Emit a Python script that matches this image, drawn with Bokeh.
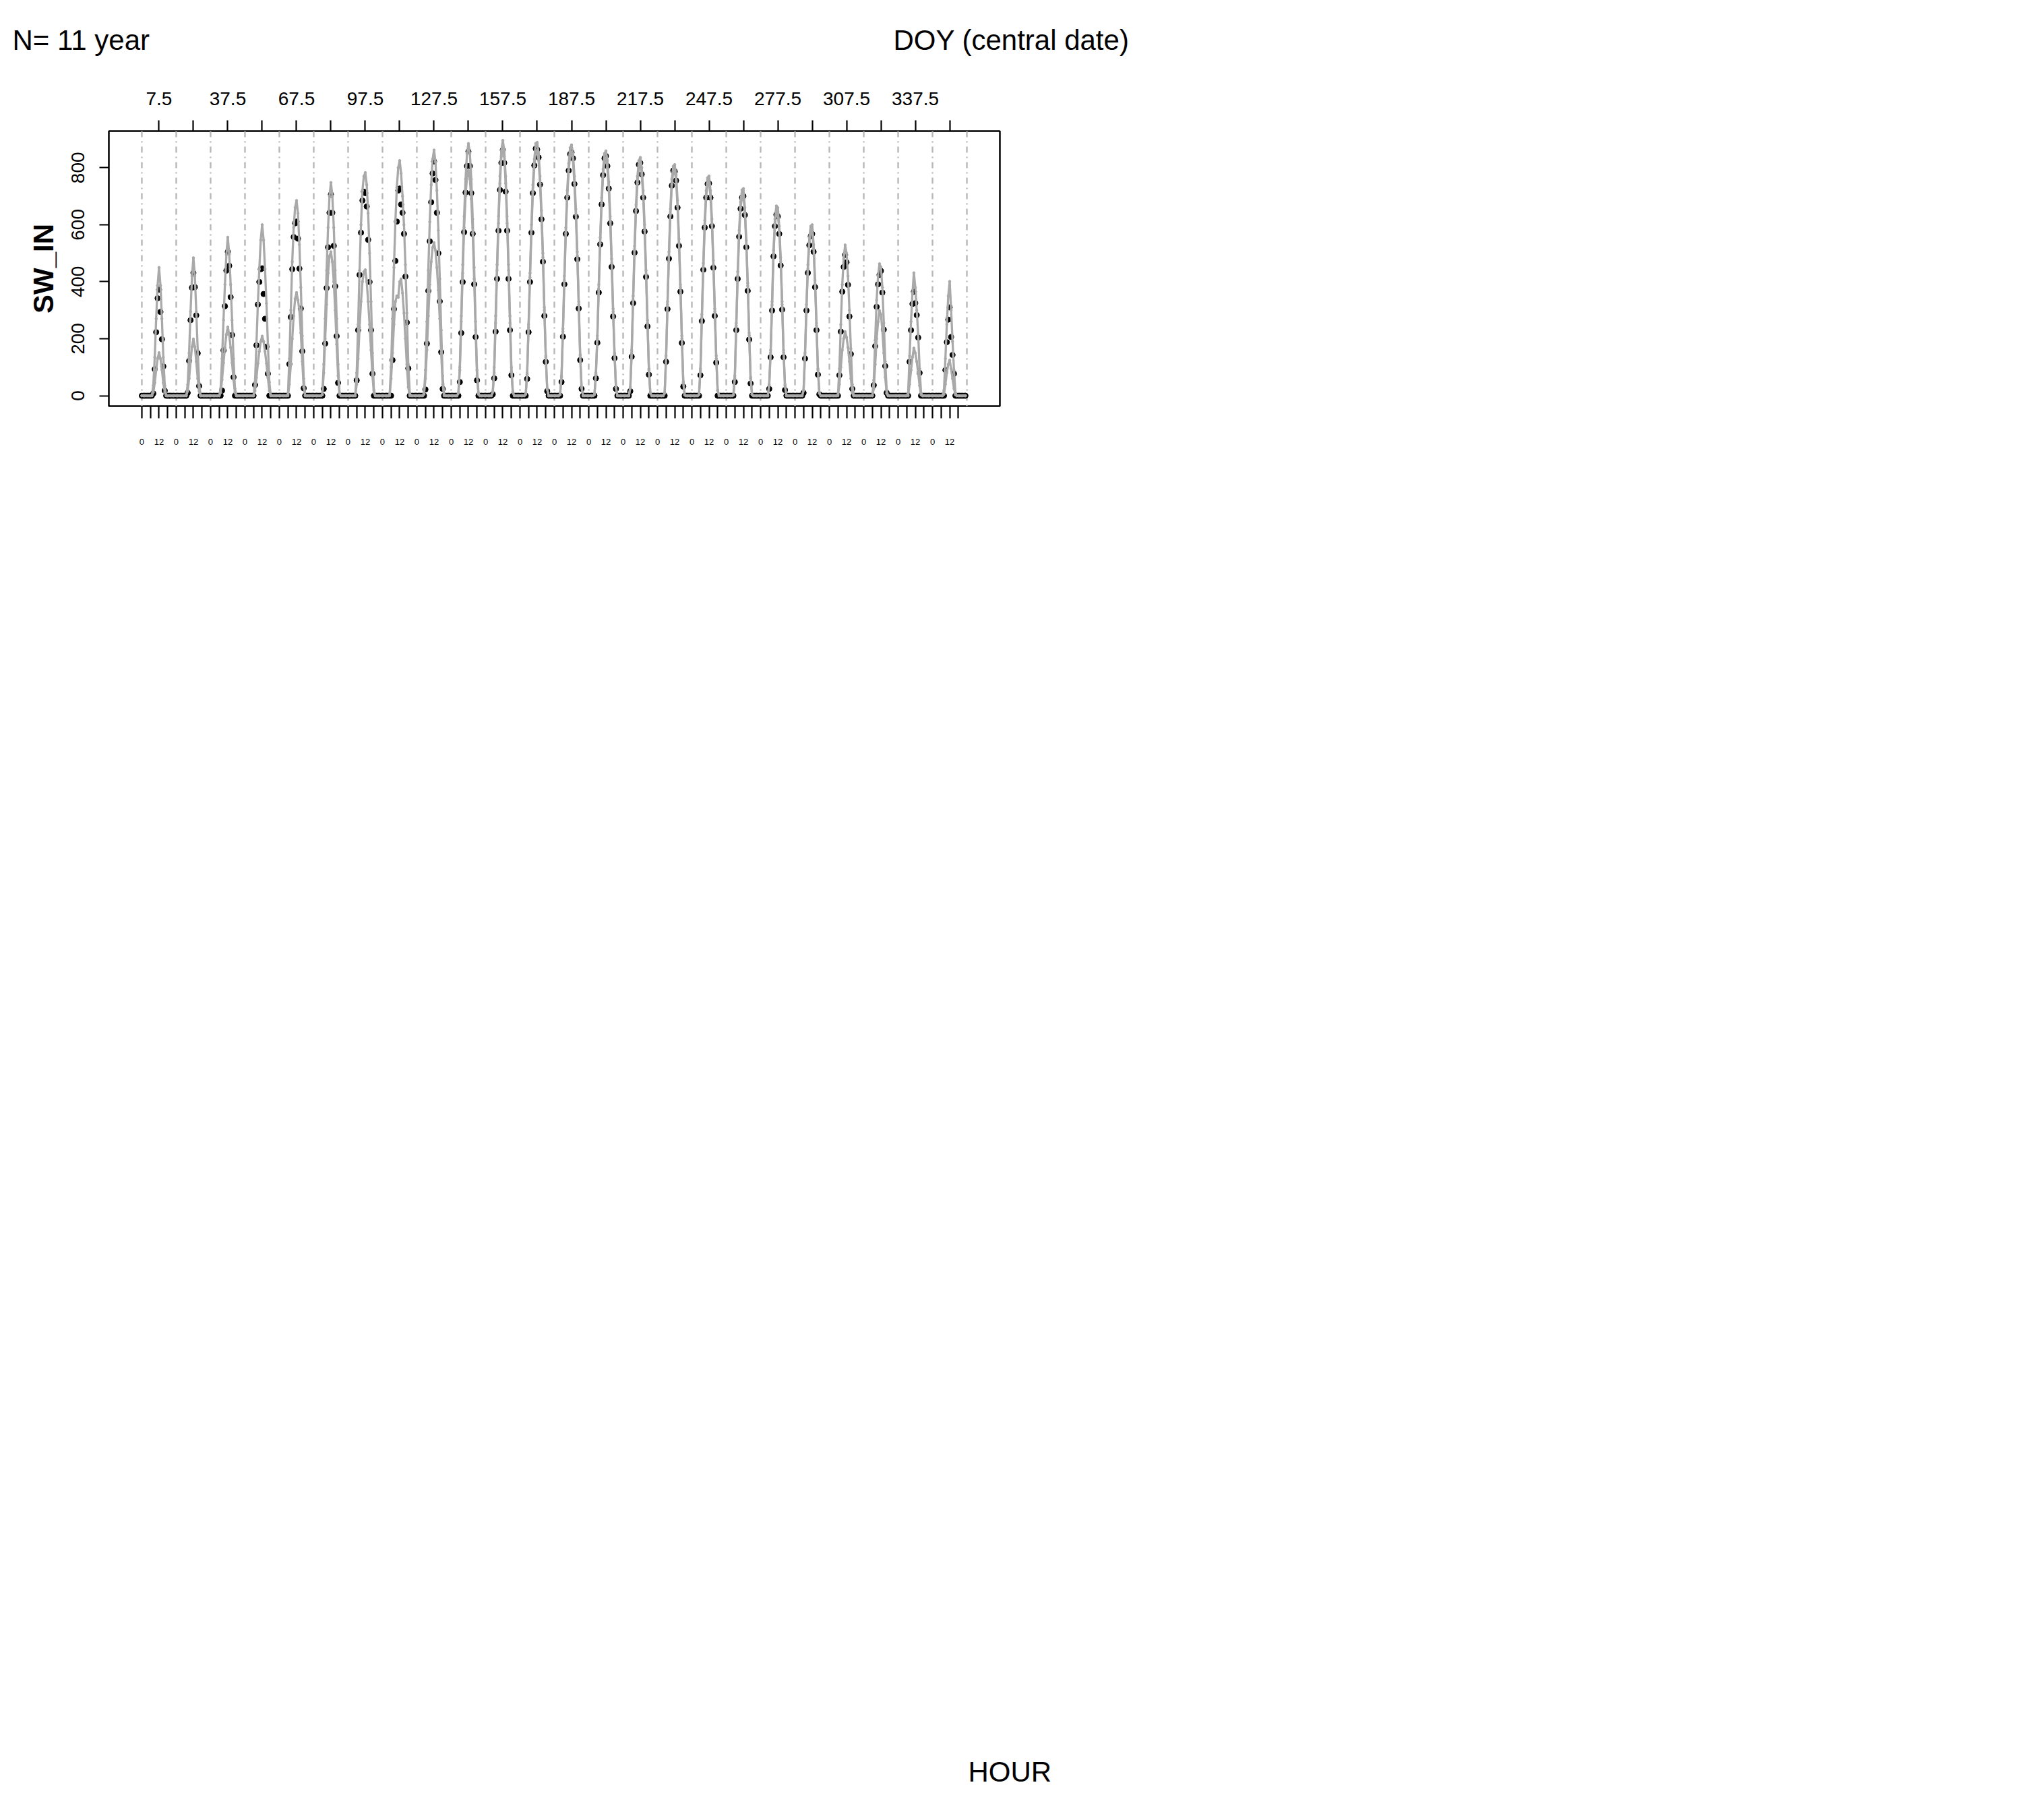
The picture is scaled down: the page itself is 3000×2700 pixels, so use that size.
from bokeh.plotting import figure
from bokeh.models import Range1d, FixedTicker, LinearAxis, Span, Grid, Title
from bokeh.embed import file_html
from bokeh.resources import INLINE

# ---------------- data ----------------
N_YEARS = 11
DOY_CENTER = [7.5, 22.5, 37.5, 52.5, 67.5, 82.5, 97.5, 112.5, 127.5, 142.5, 157.5, 172.5,
              187.5, 202.5, 217.5, 232.5, 247.5, 262.5, 277.5, 292.5, 307.5, 322.5, 337.5, 352.5]
HOURS = list(range(24))
HOUR_LABELS = {0: "0", 12: "12"}
Y_TICKS = [0, 200, 400, 600, 800]

# upper grey curve, one list of hourly values per 15-day window
SW_IN_UPPER = [
    [0,0,0,0,0,0,0,0, 36,135,270,387,450,387,270,135,36, 0,0,0,0,0,0,0],
    [0,0,0,0,0,0,0,0, 39,150,295,420,484,420,295,160,45, 0,0,0,0,0,0,0],
    [0,0,0,0,0,0,0, 25,130,265,390,495,556,495,390,265,130,25, 0,0,0,0,0,0],
    [0,0,0,0,0,0,0, 48,180,324,444,546,600,546,444,324,180,48, 0,0,0,0,0,0],
    [0,0,0,0,0,0, 5,130,300,470,590,660,685,640,530,380,210,60, 0,0,0,0,0,0],
    [0,0,0,0,0,0, 5,110,270,440,590,700,748,700,590,440,270,110,10, 0,0,0,0,0],
    [0,0,0,0,0,0, 80,250,440,600,720,770,783,740,640,500,330,150,20, 0,0,0,0,0],
    [0,0,0,0,0, 5,100,270,450,610,730,800,825,780,700,600,460,290,110,10, 0,0,0,0],
    [0,0,0,0,0, 10,90,260,440,610,740,830,862,820,720,580,410,230,70,5, 0,0,0,0],
    [0,0,0,0,0, 10,100,280,460,630,760,850,885,850,760,620,450,260,90,10, 0,0,0,0],
    [0,0,0,0,0, 15,100,280,460,630,770,860,896,860,770,630,460,280,100,15, 0,0,0,0],
    [0,0,0,0, 5,80,250,430,600,740,830,885,889,850,770,650,500,310,140,25, 0,0,0,0],
    [0,0,0,0, 5,70,235,420,590,720,815,870,880,850,770,655,505,330,145,30, 0,0,0,0],
    [0,0,0,0, 5,80,210,390,555,695,795,850,859,825,750,630,480,305,150,30, 0,0,0,0],
    [0,0,0,0,0, 30,160,350,525,670,770,825,836,800,720,600,440,265,95,10, 0,0,0,0],
    [0,0,0,0,0, 10,140,330,505,655,760,805,811,775,685,550,390,210,50,3, 0,0,0,0],
    [0,0,0,0,0, 5,95,285,465,615,720,765,771,720,620,475,305,140,20, 0,0,0,0,0],
    [0,0,0,0,0, 3,70,255,435,580,680,722,727,660,545,395,220,65,5, 0,0,0,0,0],
    [0,0,0,0,0,0, 40,160,330,510,620,666,660,595,485,330,160,40, 0,0,0,0,0,0],
    [0,0,0,0,0,0, 20,150,320,460,555,595,600,530,405,255,95,10, 0,0,0,0,0,0],
    [0,0,0,0,0,0, 5,95,250,390,480,529,500,420,300,165,40, 0,0,0,0,0,0,0],
    [0,0,0,0,0,0,0, 55,195,335,420,463,450,380,255,120,20, 0,0,0,0,0,0,0],
    [0,0,0,0,0,0,0, 10,140,260,360,431,380,300,215,95,10, 0,0,0,0,0,0,0],
    [0,0,0,0,0,0,0,0, 20,130,250,350,401,300,190,90,10, 0,0,0,0,0,0,0],
]

# lower grey curve
SW_IN_LOWER = [
    [0,0,0,0,0,0,0,0, 12,45,91,130,151,130,91,45,12, 0,0,0,0,0,0,0],
    [0,0,0,0,0,0,0,0, 16,60,120,172,199,172,120,60,16, 0,0,0,0,0,0,0],
    [0,0,0,0,0,0,0, 11,56,115,169,214,241,214,169,115,56,11, 0,0,0,0,0,0],
    [0,0,0,0,0,0,0, 17,63,113,155,190,209,190,155,113,63,17, 0,0,0,0,0,0],
    [0,0,0,0,0,0,0, 40,110,200,280,340,362,335,300,220,120,30, 0,0,0,0,0,0],
    [0,0,0,0,0,0, 3,80,200,320,430,490,505,470,400,300,180,70,5, 0,0,0,0,0],
    [0,0,0,0,0,0, 40,130,240,330,400,435,442,400,330,250,160,70,10, 0,0,0,0,0],
    [0,0,0,0,0,0, 60,150,250,330,350,345,400,410,360,290,200,110,30, 0,0,0,0,0],
    [0,0,0,0,0, 5,60,160,280,390,470,520,537,510,450,370,270,150,40, 0,0,0,0,0],
    [0,0,0,0,0, 8,90,260,430,590,700,770,790,760,690,570,410,230,70,5, 0,0,0,0],
    [0,0,0,0,0, 12,80,255,440,605,745,840,880,840,745,605,440,255,85,10, 0,0,0,0],
    [0,0,0,0, 5,75,240,415,580,715,805,860,860,825,745,630,485,300,135,22, 0,0,0,0],
    [0,0,0,0, 4,65,225,405,570,700,790,845,855,825,745,635,490,320,140,28, 0,0,0,0],
    [0,0,0,0, 4,75,200,375,535,675,770,825,835,800,725,610,465,295,145,28, 0,0,0,0],
    [0,0,0,0,0, 25,150,335,510,650,745,800,815,775,700,580,425,255,90,8, 0,0,0,0],
    [0,0,0,0,0, 8,130,320,490,635,740,785,790,755,665,535,380,200,45,2, 0,0,0,0],
    [0,0,0,0,0, 4,88,275,450,595,700,745,750,700,600,460,295,130,18, 0,0,0,0,0],
    [0,0,0,0,0, 2,62,245,420,565,660,700,705,640,530,385,212,60,4, 0,0,0,0,0],
    [0,0,0,0,0,0, 35,150,318,495,600,645,640,578,470,320,152,35, 0,0,0,0,0,0],
    [0,0,0,0,0,0, 18,142,308,445,538,578,582,515,392,246,90,8, 0,0,0,0,0,0],
    [0,0,0,0,0,0,0, 40,100,160,200,225,205,170,120,60,10, 0,0,0,0,0,0,0],
    [0,0,0,0,0,0,0, 25,110,200,260,299,285,230,150,65,8, 0,0,0,0,0,0,0],
    [0,0,0,0,0,0,0,0, 40,90,135,167,150,120,80,35,3, 0,0,0,0,0,0,0],
    [0,0,0,0,0,0,0,0, 5,40,80,110,125,95,60,25,3, 0,0,0,0,0,0,0],
]

# black points (hourly mean over the years)
SW_IN_MEAN = [
    [0,0,0,0,0,0,0,0, 8,93,223,342,372,294,198,103,18, 0,0,0,0,0,0,0],
    [0,0,0,0,0,0,0,0, 10,122,265,379,431,381,282,149,34, 0,0,0,0,0,0,0],
    [0,0,0,0,0,0,0,0, 18,159,314,439,505,456,346,213,65, 0,0,0,0,0,0,0],
    [0,0,0,0,0,0,0, 38,177,320,399,444,447,357,270,172,77, 0,0,0,0,0,0,0],
    [0,0,0,0,0,0,0, 111,276,444,557,605,611,551,446,306,156,26, 0,0,0,0,0,0],
    [0,0,0,0,0,0,0, 24,183,378,521,642,706,642,526,384,209,45, 0,0,0,0,0,0],
    [0,0,0,0,0,0, 54,230,424,572,685,716,711,664,547,399,230,77, 0,0,0,0,0,0],
    [0,0,0,0,0,0,0, 125,304,473,611,720,727,671,642,568,418,257,96, 0,0,0,0,0],
    [0,0,0,0,0,0, 22,183,368,542,679,780,822,757,642,500,331,153,24, 0,0,0,0,0],
    [0,0,0,0,0,0, 48,220,399,574,713,806,857,806,711,568,391,206,54, 0,0,0,0,0],
    [0,0,0,0,0, 5,61,225,410,579,722,817,862,817,716,579,410,230,72, 0,0,0,0,0],
    [0,0,0,0,0, 59,223,399,572,711,808,867,864,836,741,619,470,280,119,16, 0,0,0,0],
    [0,0,0,0,0, 48,207,391,568,695,790,848,854,833,743,628,479,306,125,24, 0,0,0,0],
    [0,0,0,0,0, 61,186,362,531,671,774,833,841,806,727,605,452,278,132,24, 0,0,0,0],
    [0,0,0,0,0, 16,137,325,502,648,748,811,817,777,695,576,417,243,74, 0,0,0,0,0],
    [0,0,0,0,0,0, 119,304,481,629,737,790,787,755,660,526,365,185,32, 0,0,0,0,0],
    [0,0,0,0,0,0, 72,262,442,590,695,743,745,695,595,449,280,116, 0,0,0,0,0,0],
    [0,0,0,0,0,0, 48,230,410,558,656,695,700,634,521,368,197,43, 0,0,0,0,0,0],
    [0,0,0,0,0,0, 24,135,299,489,595,635,629,568,457,302,135,20, 0,0,0,0,0,0],
    [0,0,0,0,0,0, 10,130,299,431,528,560,568,505,381,230,74,5, 0,0,0,0,0,0],
    [0,0,0,0,0,0,0, 72,225,365,452,494,468,389,278,146,24, 0,0,0,0,0,0,0],
    [0,0,0,0,0,0,0, 37,174,312,391,424,438,362,232,104,10, 0,0,0,0,0,0,0],
    [0,0,0,0,0,0,0,0, 119,230,322,365,325,283,204,80, 0,0,0,0,0,0,0,0],
    [0,0,0,0,0,0,0,0,0, 90,188,267,310,206,143,77, 0,0,0,0,0,0,0,0],
]

for series in (SW_IN_UPPER, SW_IN_LOWER, SW_IN_MEAN):
    assert len(series) == len(DOY_CENTER)
    for row in series:
        assert len(row) == len(HOURS), row

# ---------------- layout ----------------
W, H = 3000, 2700
FRAME_L, FRAME_R, FRAME_T, FRAME_B = 161, 1483, 194, 602
NW = len(DOY_CENTER)
NH = len(HOURS)
span_x = NW * NH
X0, X1 = -0.04 * span_x, 1.04 * span_x
Y0, Y1 = -36.5, 928.5

FONT = "Liberation Sans"
GREY = "#a9a9a9"

p = figure(width=W, height=H, output_backend="svg", toolbar_location=None,
           x_range=Range1d(X0, X1), y_range=Range1d(Y0, Y1),
           x_axis_location=None, y_axis_location=None,
           min_border_left=FRAME_L, min_border_right=W - FRAME_R,
           min_border_top=FRAME_T, min_border_bottom=H - FRAME_B)
p.background_fill_color = "white"
p.border_fill_color = "white"
p.outline_line_color = "black"
p.outline_line_width = 2.5
for r in list(p.center):
    if isinstance(r, Grid):
        r.visible = False

xs = [i * NH + h for i in range(NW) for h in HOURS]
upper = [v for row in SW_IN_UPPER for v in row]
lower = [v for row in SW_IN_LOWER for v in row]
mean = [v for row in SW_IN_MEAN for v in row]

# window separators
for i in range(NW + 1):
    p.add_layout(Span(location=i * NH, dimension="height", line_color="#b8b8b8",
                      line_width=2.4, line_dash="9 6 2 6", level="underlay"))

p.scatter(xs, mean, size=8, color="black")
for ser in (lower, upper):
    p.line(xs, ser, line_color=GREY, line_width=3.3, line_join="round")
    p.scatter(xs, ser, size=3.5, color=GREY)

def style_axis(ax, size):
    ax.axis_line_color = None
    ax.major_tick_in = 0
    ax.minor_tick_in = 0
    ax.major_tick_line_color = "black"
    ax.minor_tick_line_color = "black"
    ax.major_tick_line_width = 2.2
    ax.minor_tick_line_width = 2.2
    ax.major_label_text_font = FONT
    ax.major_label_text_font_size = size
    ax.major_label_text_color = "black"

def spacer_axis(extent):
    # axis with a single hidden tick: only reserves room in a side panel
    return LinearAxis(ticker=FixedTicker(ticks=[0]), major_label_overrides={0: ""},
                      major_tick_out=extent, major_tick_in=0, minor_tick_out=0,
                      major_label_standoff=0, axis_line_color=None,
                      major_tick_line_color=None, minor_tick_line_color=None)

# left axis
left = LinearAxis(ticker=FixedTicker(ticks=Y_TICKS), axis_label="SW_IN")
style_axis(left, "28px")
left.major_tick_out = 14
left.minor_tick_out = 0
left.major_label_orientation = "vertical"
left.major_label_standoff = 22
left.axis_label_text_font = FONT
left.axis_label_text_font_style = "bold"
left.axis_label_text_font_size = "42px"
left.axis_label_text_color = "black"
left.axis_label_standoff = 16
p.add_layout(left, "left")

# bottom axis (hours)
b_major = [i * NH + h for i in range(NW) for h in HOUR_LABELS]
b_minor = [i * NH + h for i in range(NW) for h in HOURS[6::12]]
bottom = LinearAxis(ticker=FixedTicker(ticks=b_major, minor_ticks=b_minor),
                    major_label_overrides={i * NH + h: HOUR_LABELS[h]
                                           for i in range(NW) for h in HOUR_LABELS})
style_axis(bottom, "13px")
bottom.major_tick_out = 18
bottom.minor_tick_out = 18
bottom.major_label_standoff = 30
p.add_layout(bottom, "below")

# top axis (DOY centre)
t_major = [i * NH + 12 for i in range(0, NW, 2)]
t_minor = [i * NH + 12 for i in range(1, NW, 2)]
top = LinearAxis(ticker=FixedTicker(ticks=t_major, minor_ticks=t_minor),
                 major_label_overrides={i * NH + 12: f"{DOY_CENTER[i]:g}" for i in range(0, NW, 2)})
style_axis(top, "28px")
top.major_tick_out = 16
top.minor_tick_out = 16
top.major_label_standoff = 23
p.add_layout(top, "above")

# ---------------- outer texts ----------------
def outer_title(txt, left_px, valign, standoff):
    return Title(text=txt, align="left", offset=left_px - FRAME_L, vertical_align=valign,
                 standoff=standoff, text_font=FONT, text_font_size="42px",
                 text_font_style="normal", text_color="black")

p.add_layout(spacer_axis(51), "above")
p.add_layout(outer_title("DOY (central date)", 1325, "bottom", 0), "above")
p.add_layout(outer_title(f"N= {N_YEARS} year", 18, "bottom", -98), "above")

p.add_layout(spacer_axis(1942), "below")
p.add_layout(outer_title("HOUR", 1436, "top", 0), "below")

open("out.html", "w").write(file_html(p, INLINE))
